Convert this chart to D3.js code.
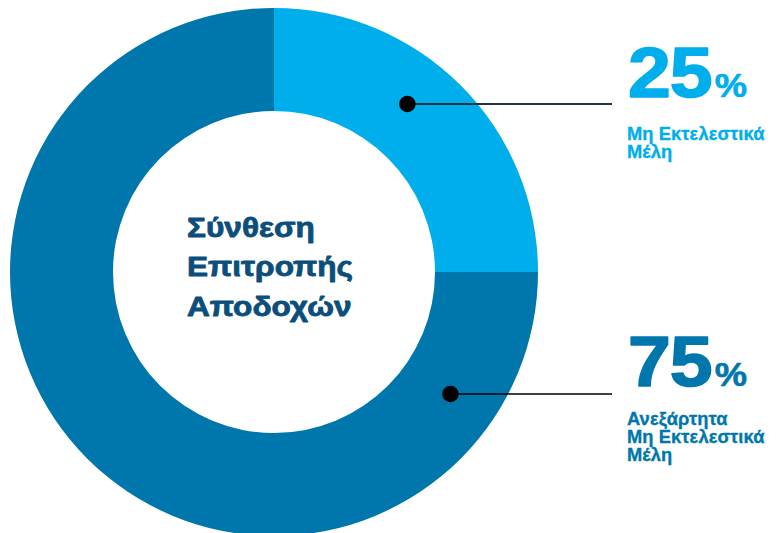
<!DOCTYPE html>
<html>
<head>
<meta charset="utf-8">
<script src="https://cdn.jsdelivr.net/npm/d3@7"></script>
<style>
  html, body { margin: 0; padding: 0; background: #fff; }
  svg { display: block; }
  text { font-family: "Liberation Sans", Arial, sans-serif; font-weight: bold; }
</style>
</head>
<body>
<svg id="chart" width="776" height="533"></svg>
<script>
// Composition of the remuneration committee
const categories = ["Μη Εκτελεστικά Μέλη", "Ανεξάρτητα Μη Εκτελεστικά Μέλη"];
const values = [25, 75];
const labelLines = [
  ["Μη Εκτελεστικά", "Μέλη"],
  ["Ανεξάρτητα", "Μη Εκτελεστικά", "Μέλη"]
];
const colors = ["#00AEEB", "#0077AC"];
const centerTitle = ["Σύνθεση", "Επιτροπής", "Αποδοχών"];

const svg = d3.select("#chart");
const cx = 274, cy = 272;
const outerR = 264, innerR = 161;
const midR = (outerR + innerR) / 2 + 2;

const pie = d3.pie().sort(null).value(d => d);
const arcs = pie(values);
const arc = d3.arc().innerRadius(innerR).outerRadius(outerR);

const g = svg.append("g").attr("transform", `translate(${cx},${cy})`);

g.selectAll("path.slice")
  .data(arcs)
  .join("path")
  .attr("class", "slice")
  .attr("d", arc)
  .attr("fill", (d, i) => colors[i]);

// Centre title (wide, heavy face)
const title = svg.append("text")
  .attr("transform", "translate(187,237) scale(1.17,1)")
  .attr("fill", "#0B4E7C")
  .attr("stroke", "#0B4E7C")
  .attr("stroke-width", 0.8)
  .attr("stroke-linejoin", "round")
  .attr("font-size", 27);
title.selectAll("tspan")
  .data(centerTitle)
  .join("tspan")
  .attr("x", 0)
  .attr("y", (d, i) => i * 39.5)
  .text(d => d);

// Callouts: value label block on the right, leader line to the ring
const labelX = 627;
const leaderY = [104, 394];
const valueBaseline = [97, 386];
const lineEnd = 612;

arcs.forEach((a, i) => {
  const dy = leaderY[i] - cy;
  const dotX = cx + Math.sqrt(midR * midR - dy * dy);

  svg.append("line")
    .attr("x1", dotX).attr("y1", leaderY[i])
    .attr("x2", lineEnd).attr("y2", leaderY[i])
    .attr("stroke", i === 0 ? "#1E3441" : "#000")
    .attr("stroke-width", i === 0 ? 1.8 : 1.4);

  svg.append("circle")
    .attr("cx", dotX).attr("cy", leaderY[i])
    .attr("r", 8.3)
    .attr("fill", "#000");

  // Big percentage figure, heavy face
  const val = svg.append("text")
    .attr("transform", `translate(${labelX + 1},${valueBaseline[i]}) scale(1.1,1)`)
    .attr("fill", colors[i])
    .attr("stroke", colors[i])
    .attr("stroke-width", 1.6)
    .attr("stroke-linejoin", "round");
  val.append("tspan")
    .attr("font-size", 70)
    .attr("letter-spacing", -1)
    .text(a.data);
  val.append("tspan")
    .attr("font-size", 33)
    .attr("stroke-width", 0.6)
    .attr("dx", 3)
    .text("%");

  const lab = svg.append("text")
    .attr("fill", colors[i])
    .attr("stroke", colors[i])
    .attr("stroke-width", 0.35)
    .attr("font-size", 18.3)
    .attr("letter-spacing", 0.1);
  lab.selectAll("tspan")
    .data(labelLines[i])
    .join("tspan")
    .attr("x", labelX)
    .attr("y", (d, j) => valueBaseline[i] + (i === 0 ? 43 : 39) + j * 18)
    .text(d => d);
});
</script>
</body>
</html>
